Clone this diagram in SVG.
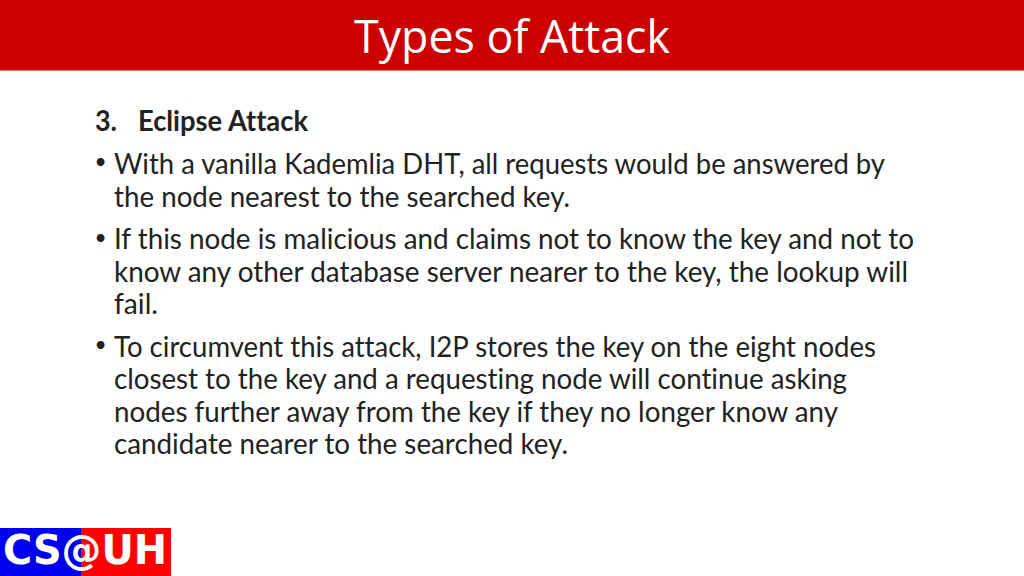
<svg xmlns="http://www.w3.org/2000/svg" width="1024" height="576" viewBox="0 0 1024 576">
<style>
.b{font-family:"Lato","Open Sans",sans-serif;font-size:28px;fill:#222;font-variant-ligatures:none}
.d{font-family:"Lato","Open Sans",sans-serif;font-size:21px;fill:#222}
.t{font-family:"Open Sans","Noto Sans",sans-serif;font-size:46px;fill:#fff}
.l{font-family:"DejaVu Sans",sans-serif;font-weight:bold;font-size:41px;fill:#fff}
</style>
<rect width="1024" height="576" fill="#fff"/>
<rect width="1024" height="70.5" fill="#cc0000"/>
<text class="t" x="354" y="53" textLength="316" lengthAdjust="spacingAndGlyphs">Types of Attack</text>
<text class="b" x="95" y="131" font-weight="bold" textLength="22" lengthAdjust="spacingAndGlyphs">3.</text>
<text class="b" x="138" y="131" font-weight="bold" textLength="170" lengthAdjust="spacingAndGlyphs">Eclipse Attack</text>
<text x="94.5" y="169" class="d">•</text>
<text x="114" y="173.7" class="b" textLength="771" lengthAdjust="spacingAndGlyphs">With a vanilla Kademlia DHT, all requests would be answered by</text>
<text x="114" y="206.5" class="b" textLength="456" lengthAdjust="spacingAndGlyphs">the node nearest to the searched key.</text>
<text x="94.5" y="244.5" class="d">•</text>
<text x="114" y="248.7" class="b" textLength="800" lengthAdjust="spacingAndGlyphs">If this node is malicious and claims not to know the key and not to</text>
<text x="114" y="281.5" class="b" textLength="794" lengthAdjust="spacingAndGlyphs">know any other database server nearer to the key, the lookup will</text>
<text x="114" y="314" class="b" textLength="44" lengthAdjust="spacingAndGlyphs">fail.</text>
<text x="94.5" y="351.5" class="d">•</text>
<text x="114" y="356.5" class="b" textLength="762" lengthAdjust="spacingAndGlyphs">To circumvent this attack, I2P stores the key on the eight nodes</text>
<text x="114" y="389" class="b" textLength="733" lengthAdjust="spacingAndGlyphs">closest to the key and a requesting node will continue asking</text>
<text x="114" y="421.5" class="b" textLength="724" lengthAdjust="spacingAndGlyphs">nodes further away from the key if they no longer know any</text>
<text x="114" y="454" class="b" textLength="454" lengthAdjust="spacingAndGlyphs">candidate nearer to the searched key.</text>
<rect x="0" y="528" width="81" height="48" fill="#0000f0"/>
<rect x="81" y="528" width="90" height="48" fill="#ff0000"/>
<text class="l" x="3" y="564" textLength="164" lengthAdjust="spacingAndGlyphs">CS@UH</text>
</svg>
